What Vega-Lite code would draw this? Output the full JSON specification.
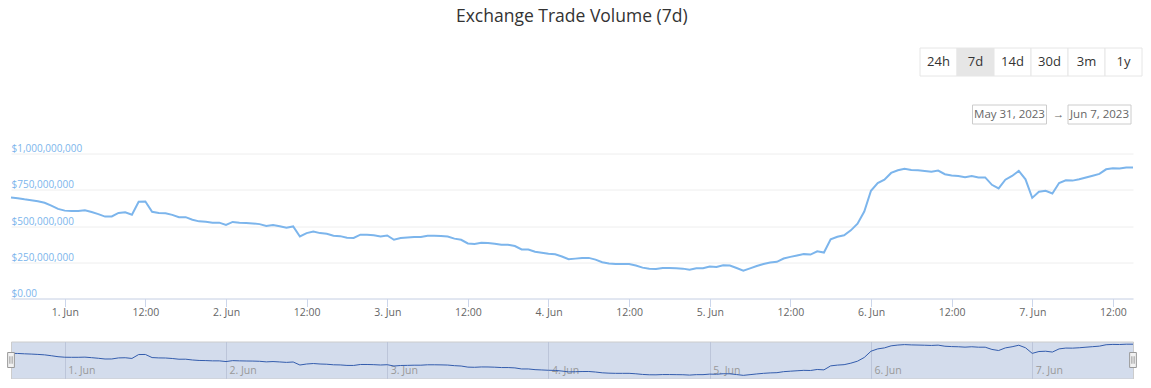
{
  "$schema": "https://vega.github.io/schema/vega-lite/v6.json",
  "padding": {"left": 5, "top": 8, "right": 0, "bottom": 0},
  "background": "#ffffff",
  "spacing": 6.5,
  "title": {"text": "Exchange Trade Volume (7d)", "fontSize": 17.5, "font": "Open Sans", "fontWeight": "normal", "color": "#333333", "anchor": "middle", "offset": 22, "dx": -2},
  "datasets": {
    "buttons": [
      {"label": "24h"}, {"label": "7d"}, {"label": "14d"}, {"label": "30d"}, {"label": "3m"}, {"label": "1y"}
    ],
    "dates": [
      {"label": "May 31, 2023", "kind": "from"},
      {"label": "→", "kind": "arrow"},
      {"label": "Jun 7, 2023", "kind": "to"}
    ],
    "vol": [
      {"t": "2023-05-31T16:00Z", "v": 696000000},
      {"t": "2023-05-31T17:00Z", "v": 692000000},
      {"t": "2023-05-31T18:00Z", "v": 684000000},
      {"t": "2023-05-31T19:00Z", "v": 678000000},
      {"t": "2023-05-31T20:00Z", "v": 670000000},
      {"t": "2023-05-31T21:00Z", "v": 660000000},
      {"t": "2023-05-31T22:00Z", "v": 640000000},
      {"t": "2023-05-31T23:00Z", "v": 618000000},
      {"t": "2023-06-01T00:00Z", "v": 606000000},
      {"t": "2023-06-01T01:00Z", "v": 604000000},
      {"t": "2023-06-01T02:00Z", "v": 604000000},
      {"t": "2023-06-01T03:00Z", "v": 608000000},
      {"t": "2023-06-01T04:00Z", "v": 596000000},
      {"t": "2023-06-01T05:00Z", "v": 582000000},
      {"t": "2023-06-01T06:00Z", "v": 565000000},
      {"t": "2023-06-01T07:00Z", "v": 566000000},
      {"t": "2023-06-01T08:00Z", "v": 590000000},
      {"t": "2023-06-01T09:00Z", "v": 594000000},
      {"t": "2023-06-01T10:00Z", "v": 578000000},
      {"t": "2023-06-01T11:00Z", "v": 667000000},
      {"t": "2023-06-01T12:00Z", "v": 669000000},
      {"t": "2023-06-01T13:00Z", "v": 598000000},
      {"t": "2023-06-01T14:00Z", "v": 590000000},
      {"t": "2023-06-01T15:00Z", "v": 588000000},
      {"t": "2023-06-01T16:00Z", "v": 577000000},
      {"t": "2023-06-01T17:00Z", "v": 560000000},
      {"t": "2023-06-01T18:00Z", "v": 561000000},
      {"t": "2023-06-01T19:00Z", "v": 543000000},
      {"t": "2023-06-01T20:00Z", "v": 532000000},
      {"t": "2023-06-01T21:00Z", "v": 529000000},
      {"t": "2023-06-01T22:00Z", "v": 523000000},
      {"t": "2023-06-01T23:00Z", "v": 523000000},
      {"t": "2023-06-02T00:00Z", "v": 507000000},
      {"t": "2023-06-02T01:00Z", "v": 528000000},
      {"t": "2023-06-02T02:00Z", "v": 523000000},
      {"t": "2023-06-02T03:00Z", "v": 520000000},
      {"t": "2023-06-02T04:00Z", "v": 518000000},
      {"t": "2023-06-02T05:00Z", "v": 513000000},
      {"t": "2023-06-02T06:00Z", "v": 500000000},
      {"t": "2023-06-02T07:00Z", "v": 507000000},
      {"t": "2023-06-02T08:00Z", "v": 498000000},
      {"t": "2023-06-02T09:00Z", "v": 488000000},
      {"t": "2023-06-02T10:00Z", "v": 497000000},
      {"t": "2023-06-02T11:00Z", "v": 428000000},
      {"t": "2023-06-02T12:00Z", "v": 451000000},
      {"t": "2023-06-02T13:00Z", "v": 462000000},
      {"t": "2023-06-02T14:00Z", "v": 451000000},
      {"t": "2023-06-02T15:00Z", "v": 446000000},
      {"t": "2023-06-02T16:00Z", "v": 433000000},
      {"t": "2023-06-02T17:00Z", "v": 430000000},
      {"t": "2023-06-02T18:00Z", "v": 419000000},
      {"t": "2023-06-02T19:00Z", "v": 418000000},
      {"t": "2023-06-02T20:00Z", "v": 440000000},
      {"t": "2023-06-02T21:00Z", "v": 440000000},
      {"t": "2023-06-02T22:00Z", "v": 436000000},
      {"t": "2023-06-02T23:00Z", "v": 428000000},
      {"t": "2023-06-03T00:00Z", "v": 435000000},
      {"t": "2023-06-03T01:00Z", "v": 405000000},
      {"t": "2023-06-03T02:00Z", "v": 417000000},
      {"t": "2023-06-03T03:00Z", "v": 420000000},
      {"t": "2023-06-03T04:00Z", "v": 424000000},
      {"t": "2023-06-03T05:00Z", "v": 424000000},
      {"t": "2023-06-03T06:00Z", "v": 433000000},
      {"t": "2023-06-03T07:00Z", "v": 433000000},
      {"t": "2023-06-03T08:00Z", "v": 431000000},
      {"t": "2023-06-03T09:00Z", "v": 427000000},
      {"t": "2023-06-03T10:00Z", "v": 413000000},
      {"t": "2023-06-03T11:00Z", "v": 405000000},
      {"t": "2023-06-03T12:00Z", "v": 380000000},
      {"t": "2023-06-03T13:00Z", "v": 376000000},
      {"t": "2023-06-03T14:00Z", "v": 384000000},
      {"t": "2023-06-03T15:00Z", "v": 383000000},
      {"t": "2023-06-03T16:00Z", "v": 378000000},
      {"t": "2023-06-03T17:00Z", "v": 370000000},
      {"t": "2023-06-03T18:00Z", "v": 370000000},
      {"t": "2023-06-03T19:00Z", "v": 362000000},
      {"t": "2023-06-03T20:00Z", "v": 338000000},
      {"t": "2023-06-03T21:00Z", "v": 338000000},
      {"t": "2023-06-03T22:00Z", "v": 322000000},
      {"t": "2023-06-03T23:00Z", "v": 315000000},
      {"t": "2023-06-04T00:00Z", "v": 308000000},
      {"t": "2023-06-04T01:00Z", "v": 305000000},
      {"t": "2023-06-04T02:00Z", "v": 290000000},
      {"t": "2023-06-04T03:00Z", "v": 271000000},
      {"t": "2023-06-04T04:00Z", "v": 275000000},
      {"t": "2023-06-04T05:00Z", "v": 279000000},
      {"t": "2023-06-04T06:00Z", "v": 280000000},
      {"t": "2023-06-04T07:00Z", "v": 268000000},
      {"t": "2023-06-04T08:00Z", "v": 250000000},
      {"t": "2023-06-04T09:00Z", "v": 242000000},
      {"t": "2023-06-04T10:00Z", "v": 238000000},
      {"t": "2023-06-04T11:00Z", "v": 238000000},
      {"t": "2023-06-04T12:00Z", "v": 238000000},
      {"t": "2023-06-04T13:00Z", "v": 228000000},
      {"t": "2023-06-04T14:00Z", "v": 213000000},
      {"t": "2023-06-04T15:00Z", "v": 205000000},
      {"t": "2023-06-04T16:00Z", "v": 204000000},
      {"t": "2023-06-04T17:00Z", "v": 210000000},
      {"t": "2023-06-04T18:00Z", "v": 210000000},
      {"t": "2023-06-04T19:00Z", "v": 208000000},
      {"t": "2023-06-04T20:00Z", "v": 206000000},
      {"t": "2023-06-04T21:00Z", "v": 198000000},
      {"t": "2023-06-04T22:00Z", "v": 208000000},
      {"t": "2023-06-04T23:00Z", "v": 208000000},
      {"t": "2023-06-05T00:00Z", "v": 220000000},
      {"t": "2023-06-05T01:00Z", "v": 217000000},
      {"t": "2023-06-05T02:00Z", "v": 229000000},
      {"t": "2023-06-05T03:00Z", "v": 227000000},
      {"t": "2023-06-05T04:00Z", "v": 210000000},
      {"t": "2023-06-05T05:00Z", "v": 192000000},
      {"t": "2023-06-05T06:00Z", "v": 208000000},
      {"t": "2023-06-05T07:00Z", "v": 224000000},
      {"t": "2023-06-05T08:00Z", "v": 238000000},
      {"t": "2023-06-05T09:00Z", "v": 248000000},
      {"t": "2023-06-05T10:00Z", "v": 253000000},
      {"t": "2023-06-05T11:00Z", "v": 276000000},
      {"t": "2023-06-05T12:00Z", "v": 287000000},
      {"t": "2023-06-05T13:00Z", "v": 297000000},
      {"t": "2023-06-05T14:00Z", "v": 306000000},
      {"t": "2023-06-05T15:00Z", "v": 303000000},
      {"t": "2023-06-05T16:00Z", "v": 326000000},
      {"t": "2023-06-05T17:00Z", "v": 317000000},
      {"t": "2023-06-05T18:00Z", "v": 408000000},
      {"t": "2023-06-05T19:00Z", "v": 426000000},
      {"t": "2023-06-05T20:00Z", "v": 436000000},
      {"t": "2023-06-05T21:00Z", "v": 470000000},
      {"t": "2023-06-05T22:00Z", "v": 516000000},
      {"t": "2023-06-05T23:00Z", "v": 600000000},
      {"t": "2023-06-06T00:00Z", "v": 743000000},
      {"t": "2023-06-06T01:00Z", "v": 796000000},
      {"t": "2023-06-06T02:00Z", "v": 819000000},
      {"t": "2023-06-06T03:00Z", "v": 866000000},
      {"t": "2023-06-06T04:00Z", "v": 884000000},
      {"t": "2023-06-06T05:00Z", "v": 894000000},
      {"t": "2023-06-06T06:00Z", "v": 887000000},
      {"t": "2023-06-06T07:00Z", "v": 884000000},
      {"t": "2023-06-06T08:00Z", "v": 880000000},
      {"t": "2023-06-06T09:00Z", "v": 875000000},
      {"t": "2023-06-06T10:00Z", "v": 882000000},
      {"t": "2023-06-06T11:00Z", "v": 857000000},
      {"t": "2023-06-06T12:00Z", "v": 849000000},
      {"t": "2023-06-06T13:00Z", "v": 845000000},
      {"t": "2023-06-06T14:00Z", "v": 836000000},
      {"t": "2023-06-06T15:00Z", "v": 845000000},
      {"t": "2023-06-06T16:00Z", "v": 835000000},
      {"t": "2023-06-06T17:00Z", "v": 835000000},
      {"t": "2023-06-06T18:00Z", "v": 784000000},
      {"t": "2023-06-06T19:00Z", "v": 759000000},
      {"t": "2023-06-06T20:00Z", "v": 819000000},
      {"t": "2023-06-06T21:00Z", "v": 845000000},
      {"t": "2023-06-06T22:00Z", "v": 880000000},
      {"t": "2023-06-06T23:00Z", "v": 822000000},
      {"t": "2023-06-07T00:00Z", "v": 694000000},
      {"t": "2023-06-07T01:00Z", "v": 736000000},
      {"t": "2023-06-07T02:00Z", "v": 743000000},
      {"t": "2023-06-07T03:00Z", "v": 724000000},
      {"t": "2023-06-07T04:00Z", "v": 796000000},
      {"t": "2023-06-07T05:00Z", "v": 815000000},
      {"t": "2023-06-07T06:00Z", "v": 813000000},
      {"t": "2023-06-07T07:00Z", "v": 822000000},
      {"t": "2023-06-07T08:00Z", "v": 835000000},
      {"t": "2023-06-07T09:00Z", "v": 847000000},
      {"t": "2023-06-07T10:00Z", "v": 859000000},
      {"t": "2023-06-07T11:00Z", "v": 891000000},
      {"t": "2023-06-07T12:00Z", "v": 898000000},
      {"t": "2023-06-07T13:00Z", "v": 896000000},
      {"t": "2023-06-07T14:00Z", "v": 903000000},
      {"t": "2023-06-07T15:00Z", "v": 903000000}
    ]
  },
  "vconcat": [
    {
      "spacing": 27,
      "vconcat": [
        {
          "width": 1131,
          "height": 28,
          "data": {"name": "buttons"},
          "encoding": {
            "x": {"field": "label", "type": "nominal", "sort": null, "scale": {"paddingInner": 0, "paddingOuter": 0, "range": [909, 1131]}, "axis": null}
          },
          "layer": [
            {
              "mark": {"type": "bar", "stroke": "#e6e6e6", "strokeWidth": 1},
              "encoding": {
                "color": {"condition": {"test": "datum.label === '7d'", "value": "#e6e6e6"}, "value": "#ffffff"}
              }
            },
            {
              "mark": {"type": "text", "fontSize": 13, "color": "#333333", "font": "Open Sans"},
              "encoding": {"text": {"field": "label"}}
            }
          ]
        },
        {
          "width": 1131,
          "height": 19,
          "data": {"name": "dates"},
          "encoding": {
            "x": {"field": "label", "type": "nominal", "sort": ["May 31, 2023", "→", "Jun 7, 2023"], "scale": {"paddingInner": 0, "paddingOuter": 0, "range": [976, 1111]}, "axis": null}
          },
          "layer": [
            {
              "transform": [{"filter": "datum.kind === 'from'"}],
              "mark": {"type": "bar", "width": 74, "fill": "#ffffff", "stroke": "#cccccc", "strokeWidth": 1}
            },
            {
              "transform": [{"filter": "datum.kind === 'to'"}],
              "mark": {"type": "bar", "width": 63, "fill": "#ffffff", "stroke": "#cccccc", "strokeWidth": 1}
            },
            {
              "transform": [{"filter": "datum.kind !== 'arrow'"}],
              "mark": {"type": "text", "fontSize": 11.5, "color": "#666666", "font": "Open Sans"},
              "encoding": {"text": {"field": "label"}}
            },
            {
              "transform": [{"filter": "datum.kind === 'arrow'"}],
              "mark": {"type": "text", "fontSize": 11.5, "color": "#666666", "font": "Open Sans", "dx": 4},
              "encoding": {"text": {"field": "label"}}
            }
          ]
        }
      ]
    },
    {
      "spacing": 0,
      "vconcat": [
        {
          "width": 1122,
          "height": 209,
          "data": {"name": "vol"},
          "mark": {"type": "line", "color": "#7cb5ec", "strokeWidth": 2},
          "encoding": {
            "x": {
              "field": "t", "type": "temporal",
              "scale": {"type": "utc", "nice": false},
              "axis": {
                "title": null,
                "orient": "bottom",
                "offset": -42,
                "values": [
                  {"year": 2023, "month": 6, "date": 1, "hours": 0, "utc": true},
                  {"year": 2023, "month": 6, "date": 1, "hours": 12, "utc": true},
                  {"year": 2023, "month": 6, "date": 2, "hours": 0, "utc": true},
                  {"year": 2023, "month": 6, "date": 2, "hours": 12, "utc": true},
                  {"year": 2023, "month": 6, "date": 3, "hours": 0, "utc": true},
                  {"year": 2023, "month": 6, "date": 3, "hours": 12, "utc": true},
                  {"year": 2023, "month": 6, "date": 4, "hours": 0, "utc": true},
                  {"year": 2023, "month": 6, "date": 4, "hours": 12, "utc": true},
                  {"year": 2023, "month": 6, "date": 5, "hours": 0, "utc": true},
                  {"year": 2023, "month": 6, "date": 5, "hours": 12, "utc": true},
                  {"year": 2023, "month": 6, "date": 6, "hours": 0, "utc": true},
                  {"year": 2023, "month": 6, "date": 6, "hours": 12, "utc": true},
                  {"year": 2023, "month": 6, "date": 7, "hours": 0, "utc": true},
                  {"year": 2023, "month": 6, "date": 7, "hours": 12, "utc": true}
                ],
                "labelExpr": "utcFormat(datum.value, '%H') === '00' ? utcFormat(datum.value, '%-d. %b') : utcFormat(datum.value, '%H:%M')",
                "grid": false,
                "domainColor": "#ccd6eb",
                "tickColor": "#ccd6eb",
                "tickSize": 8,
                "labelColor": "#666666",
                "labelFontSize": 10.5,
                "labelFont": "Open Sans",
                "labelPadding": 1,
                "labelFlush": false,
                "labelOverlap": false
              }
            },
            "y": {
              "field": "v", "type": "quantitative",
              "scale": {"domain": [-289655172, 1151724138], "nice": false, "zero": false},
              "axis": {
                "title": null,
                "values": [0, 250000000, 500000000, 750000000, 1000000000],
                "labelExpr": "datum.value === 0 ? '$0.00' : '$' + format(datum.value, ',')",
                "domain": false,
                "ticks": false,
                "tickSize": 0,
                "labelAlign": "left",
                "labelBaseline": "bottom",
                "labelPadding": 0,
                "labelColor": "#7cb5ec",
                "labelFontSize": 10,
                "labelFont": "Open Sans",
                "gridColor": "#eeeeee",
                "labelFlush": false,
                "labelOverlap": false
              }
            }
          }
        },
        {
          "width": 1122,
          "height": 37,
          "view": {"fill": "#d3dcec", "stroke": "#cccccc"},
          "data": {"name": "vol"},
          "layer": [
            {
              "mark": {"type": "line", "color": "#335cad", "strokeWidth": 1},
              "encoding": {
                "x": {
                  "field": "t", "type": "temporal",
                  "scale": {"type": "utc", "nice": false},
                  "axis": {
                    "title": null,
                    "orient": "bottom",
                    "values": [
                      {"year": 2023, "month": 6, "date": 1, "utc": true},
                      {"year": 2023, "month": 6, "date": 2, "utc": true},
                      {"year": 2023, "month": 6, "date": 3, "utc": true},
                      {"year": 2023, "month": 6, "date": 4, "utc": true},
                      {"year": 2023, "month": 6, "date": 5, "utc": true},
                      {"year": 2023, "month": 6, "date": 6, "utc": true},
                      {"year": 2023, "month": 6, "date": 7, "utc": true}
                    ],
                    "labelExpr": "utcFormat(datum.value, '%-d. %b')",
                    "grid": true,
                    "gridColor": "#bcc5d9",
                    "domain": false,
                    "ticks": false,
                    "tickSize": 0,
                    "labelAlign": "left",
                    "labelBaseline": "middle",
                    "labelPadding": -8,
                    "labelOffset": 3,
                    "labelColor": "#999999",
                    "labelFontSize": 10.5,
                    "labelFont": "Open Sans",
                    "labelFlush": false,
                    "labelOverlap": false,
                    "labelBound": false
                  }
                },
                "y": {"field": "v", "type": "quantitative", "scale": {"domain": [120000000, 965000000], "nice": false, "zero": false}, "axis": null}
              }
            },
            {
              "transform": [
                {"aggregate": [{"op": "min", "field": "t", "as": "t0"}, {"op": "max", "field": "t", "as": "t1"}]},
                {"fold": ["t0", "t1"], "as": ["edge", "tt"]}
              ],
              "mark": {"type": "point", "shape": "M-0.45,-1L0.45,-1L0.45,1L-0.45,1Z M-0.15,-0.5L-0.15,0.5 M0.15,-0.5L0.15,0.5", "size": 225, "filled": false, "fill": "#f2f2f2", "stroke": "#999999", "strokeWidth": 1, "opacity": 1},
              "encoding": {
                "x": {"field": "tt", "type": "temporal", "scale": {"type": "utc"}}
              }
            }
          ]
        }
      ]
    }
  ],
  "config": {
    "view": {"stroke": null},
    "font": "Open Sans"
  }
}
